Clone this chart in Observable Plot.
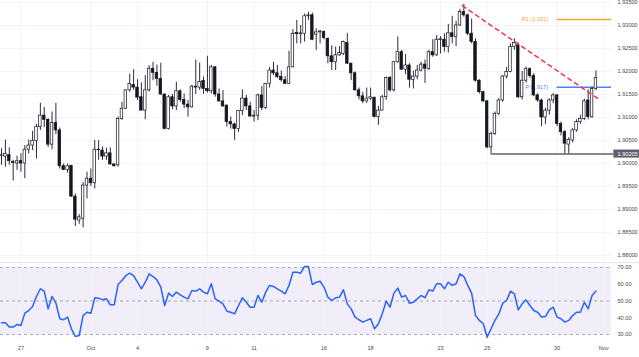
<!DOCTYPE html>
<html><head><meta charset="utf-8">
<script src="https://cdn.jsdelivr.net/npm/d3@7"></script>
<script src="https://cdn.jsdelivr.net/npm/@observablehq/plot@0.6"></script>
<style>
body{margin:0;background:#fff;}
#chart{width:639px;height:357px;overflow:hidden;position:relative;}
#chart svg{display:block;}
#rsiBox{border-top:1px solid #e0e3eb;}
</style></head><body><div id="chart"><div id="mainBox"></div><div id="rsiBox"></div></div>
<script>
// ---- 4-hour candles (first bar: 2023-09-26 04:00) ----
const open = [1.9016,1.9015,1.9018,1.9003,1.9000,1.9005,1.9000,1.9030,1.9039,1.9049,
1.9079,1.9104,1.9095,1.9041,1.9088,1.9072,1.8994,1.8986,1.8995,1.8928,
1.8876,1.8880,1.8952,1.8967,1.8957,1.9030,1.9028,1.9015,1.9022,1.8998,
1.8996,1.9097,1.9119,1.9159,1.9171,1.9165,1.9144,1.9115,1.9159,1.9206,
1.9197,1.9184,1.9150,1.9075,1.9144,1.9124,1.9157,1.9138,1.9128,1.9122,
1.9167,1.9165,1.9179,1.9162,1.9157,1.9209,1.9150,1.9135,1.9126,1.9090,
1.9085,1.9075,1.9114,1.9141,1.9124,1.9102,1.9104,1.9148,1.9121,1.9173,
1.9202,1.9196,1.9188,1.9181,1.9173,1.9209,1.9284,1.9281,1.9282,1.9320,
1.9322,1.9280,1.9285,1.9286,1.9271,1.9233,1.9220,1.9235,1.9238,1.9262,
1.9217,1.9196,1.9159,1.9146,1.9135,1.9141,1.9143,1.9101,1.9115,1.9144,
1.9186,1.9159,1.9220,1.9242,1.9204,1.9213,1.9182,1.9189,1.9202,1.9215,
1.9206,1.9242,1.9235,1.9268,1.9269,1.9253,1.9283,1.9275,1.9300,1.9329,
1.9322,1.9282,1.9264,1.9180,1.9155,1.9135,1.9035,1.9064,1.9108,1.9137,
1.9189,1.9199,1.9253,1.9257,1.9144,1.9180,1.9205,1.9190,1.9148,1.9137,
1.9100,1.9115,1.9137,1.9148,1.9086,1.9068,1.9041,1.9050,1.9072,1.9090,
1.9097,1.9137,1.9101,1.9162];
const high = [1.9032,1.9051,1.9034,1.9007,1.9016,1.9021,1.9039,1.9051,1.9070,1.9085,
1.9131,1.9122,1.9097,1.9112,1.9131,1.9077,1.8999,1.8999,1.8996,1.8934,
1.8889,1.8959,1.8981,1.8988,1.9050,1.9050,1.9036,1.9033,1.9034,1.8999,
1.9101,1.9133,1.9160,1.9194,1.9204,1.9182,1.9175,1.9191,1.9213,1.9220,
1.9214,1.9218,1.9151,1.9148,1.9150,1.9177,1.9160,1.9151,1.9137,1.9170,
1.9225,1.9218,1.9188,1.9233,1.9213,1.9211,1.9162,1.9159,1.9127,1.9101,
1.9088,1.9115,1.9160,1.9148,1.9133,1.9115,1.9151,1.9167,1.9174,1.9209,
1.9220,1.9213,1.9201,1.9189,1.9244,1.9291,1.9311,1.9300,1.9325,1.9329,
1.9327,1.9293,1.9289,1.9288,1.9273,1.9256,1.9253,1.9254,1.9266,1.9283,
1.9218,1.9199,1.9164,1.9155,1.9164,1.9164,1.9144,1.9124,1.9148,1.9188,
1.9189,1.9222,1.9275,1.9246,1.9237,1.9217,1.9201,1.9213,1.9220,1.9225,
1.9246,1.9269,1.9278,1.9276,1.9282,1.9302,1.9320,1.9309,1.9335,1.9346,
1.9325,1.9314,1.9271,1.9182,1.9157,1.9137,1.9068,1.9112,1.9141,1.9191,
1.9209,1.9260,1.9271,1.9262,1.9200,1.9210,1.9208,1.9195,1.9152,1.9140,
1.9120,1.9141,1.9152,1.9150,1.9090,1.9072,1.9056,1.9076,1.9095,1.9105,
1.9140,1.9160,1.9166,1.9201];
const low = [1.8996,1.8992,1.8996,1.8962,1.8985,1.8981,1.8967,1.9021,1.9028,1.9010,
1.9072,1.9078,1.9035,1.9030,1.9063,1.8988,1.8985,1.8979,1.8927,1.8863,
1.8868,1.8860,1.8923,1.8950,1.8945,1.9007,1.9007,1.9007,1.8996,1.8992,
1.8992,1.9094,1.9117,1.9155,1.9159,1.9137,1.9114,1.9095,1.9155,1.9180,
1.9168,1.9148,1.9073,1.9073,1.9117,1.9115,1.9133,1.9119,1.9101,1.9121,
1.9150,1.9159,1.9150,1.9153,1.9151,1.9144,1.9133,1.9122,1.9079,1.9075,
1.9050,1.9068,1.9104,1.9115,1.9101,1.9090,1.9093,1.9115,1.9117,1.9164,
1.9191,1.9184,1.9177,1.9172,1.9172,1.9208,1.9260,1.9260,1.9264,1.9311,
1.9267,1.9246,1.9260,1.9269,1.9217,1.9202,1.9202,1.9233,1.9235,1.9215,
1.9180,1.9157,1.9138,1.9130,1.9131,1.9137,1.9099,1.9083,1.9114,1.9137,
1.9155,1.9155,1.9218,1.9202,1.9193,1.9164,1.9162,1.9182,1.9199,1.9174,
1.9202,1.9231,1.9233,1.9238,1.9242,1.9240,1.9260,1.9254,1.9298,1.9318,
1.9278,1.9260,1.9177,1.9151,1.9133,1.9032,1.9021,1.9061,1.9104,1.9133,
1.9184,1.9197,1.9246,1.9141,1.9138,1.9175,1.9185,1.9145,1.9133,1.9080,
1.9085,1.9105,1.9130,1.9080,1.9060,1.9021,1.9021,1.9045,1.9068,1.9085,
1.9093,1.9095,1.9098,1.9158];
const close = [1.9018,1.9021,1.9005,1.9001,1.9005,1.9000,1.9030,1.9039,1.9049,1.9079,
1.9104,1.9095,1.9041,1.9088,1.9072,1.8994,1.8986,1.8994,1.8928,1.8878,
1.8883,1.8952,1.8967,1.8957,1.9030,1.9029,1.9015,1.9022,1.8998,1.8994,
1.9097,1.9119,1.9159,1.9173,1.9165,1.9143,1.9115,1.9159,1.9206,1.9197,
1.9184,1.9150,1.9075,1.9144,1.9124,1.9157,1.9138,1.9128,1.9122,1.9167,
1.9165,1.9177,1.9162,1.9157,1.9209,1.9150,1.9135,1.9124,1.9090,1.9085,
1.9075,1.9114,1.9141,1.9124,1.9102,1.9104,1.9148,1.9121,1.9173,1.9202,
1.9196,1.9188,1.9181,1.9173,1.9209,1.9282,1.9281,1.9283,1.9320,1.9322,
1.9269,1.9285,1.9287,1.9273,1.9233,1.9220,1.9235,1.9240,1.9264,1.9217,
1.9196,1.9159,1.9146,1.9135,1.9141,1.9144,1.9101,1.9115,1.9144,1.9186,
1.9159,1.9220,1.9242,1.9204,1.9213,1.9182,1.9189,1.9202,1.9215,1.9206,
1.9242,1.9235,1.9269,1.9270,1.9253,1.9283,1.9275,1.9300,1.9329,1.9322,
1.9282,1.9264,1.9180,1.9155,1.9135,1.9035,1.9064,1.9108,1.9137,1.9189,
1.9199,1.9253,1.9262,1.9144,1.9180,1.9205,1.9190,1.9148,1.9137,1.9100,
1.9115,1.9137,1.9148,1.9086,1.9068,1.9043,1.9051,1.9072,1.9090,1.9097,
1.9135,1.9101,1.9162,1.9186];
// ---- RSI(14) per bar ----
const rsi = [37.0,37.0,34.4,34.4,36.0,35.4,42.7,44.3,46.7,52.7,
57.3,55.9,45.3,52.7,48.7,39.4,38.8,40.4,33.4,28.8,
29.4,41.3,43.3,42.7,51.9,51.7,50.7,51.3,47.7,47.7,
59.8,62.2,65.2,66.6,65.2,61.2,57.3,61.2,66.2,64.6,
62.6,58.3,47.3,54.7,52.7,55.3,53.7,52.3,51.3,56.3,
55.9,57.3,55.3,54.3,60.3,51.3,49.9,48.3,43.9,43.3,
42.3,47.3,51.9,49.3,46.3,46.3,53.3,49.3,55.3,59.3,
58.7,57.3,55.9,54.3,59.3,67.2,67.2,66.6,70.6,70.6,
59.8,61.2,61.8,58.3,52.3,50.3,51.9,52.3,56.7,48.3,
45.3,40.4,38.8,37.4,38.4,39.4,33.4,36.4,42.3,49.9,
46.3,54.7,57.7,52.3,53.3,48.7,49.3,51.3,53.3,51.9,
56.7,55.9,60.3,60.3,57.3,61.2,59.3,60.3,66.2,64.6,
59.3,54.7,41.3,38.4,36.4,28.4,33.4,38.4,42.3,48.7,
50.3,55.9,54.3,44.7,48.3,50.7,47.3,44.3,43.3,40.4,
40.7,44.7,46.3,40.4,39.4,37.4,38.4,41.3,43.3,43.3,
49.3,45.3,53.3,55.9];
// ---- axes ----
const tickDates = ["2023-09-27","2023-10-02","2023-10-04","2023-10-09","2023-10-11","2023-10-16","2023-10-18","2023-10-23","2023-10-25","2023-10-30","2023-11-01"];
const tickLabels = ["27","Oct","4","9","11","16","18","23","25","30","Nov"];
const priceTicks = [1.880,1.885,1.890,1.895,1.900,1.905,1.910,1.915,1.920,1.925,1.930,1.935];
const rsiTicks = [30,40,50,60,70];
const rsiDashed = [70,50,30];
const rsiBand = [30,70];
// ---- annotations ----
const supportLevel = 1.90205;
const supportFromBar = 126;
const pivotR1 = 1.9313;
const pivotP = 1.9166;
const pivotWeek = "2023-10-30";
const trendline = [{bar:118.6, price:1.9343},{bar:154.2, price:1.9137}];

// bar index of each day's 00:00 bar (6 bars per weekday, first bar Tue 26 Sep 04:00)
const firstBar = new Date("2023-09-26T04:00:00Z");
const dayIndex = new Map();
{
  let t = new Date(firstBar), k = 0;
  while (k < 200) {
    const w = t.getUTCDay();
    if (w !== 0 && w !== 6) {
      if (t.getUTCHours() === 0) dayIndex.set(t.toISOString().slice(0,10), k);
      k++;
    }
    t = new Date(t.getTime() + 4*3600*1000);
  }
}
const tickIdx = tickDates.map(d => dayIndex.get(d));
const labelOf = new Map(tickIdx.map((v,i) => [v, tickLabels[i]]));
const weekIdx = dayIndex.get(pivotWeek);

const bars = open.map((o,i) => ({i, o, h: high[i], l: low[i], c: close[i]}));
const xDomain = [-0.26, 157];
const font = {fontFamily: "'Liberation Sans', Arial, sans-serif", fontSize: "5.6px", background: "transparent", overflow: "visible"};
const axisColor = "#4a4a4a";
const gridColor = "#f0f3fa";
const ink = "#131722";

const main = Plot.plot({
  width: 639, height: 262, marginLeft: 0, marginRight: 28, marginTop: 0, marginBottom: 0,
  x: {domain: xDomain, axis: null},
  y: {domain: [1.87848, 1.93543], axis: null},
  style: font,
  marks: [
    Plot.gridX(tickIdx, {stroke: gridColor, strokeOpacity: 1}),
    Plot.gridY(priceTicks, {stroke: gridColor, strokeOpacity: 1}),
    Plot.axisY(priceTicks, {anchor: "right", tickSize: 0, tickPadding: 6, tickFormat: d3.format(".5f"), fill: axisColor}),
    Plot.ruleY([pivotR1], {x1: weekIdx, x2: xDomain[1], stroke: "#f7a23a", strokeWidth: 1.5}),
    Plot.ruleY([pivotP], {x1: weekIdx, x2: xDomain[1], stroke: "#4f83f5", strokeWidth: 1.5}),
    Plot.text([pivotR1], {x: weekIdx, y: d => d, text: d => `R1 (${d3.format(".3f")(d)})`, textAnchor: "end", dx: -9, fill: "#f7a23a", fontSize: 5.6}),
    Plot.text([pivotP], {x: weekIdx, y: d => d, text: d => `P (${d3.format(".3f")(d)})`, textAnchor: "end", dx: -9, fill: "#4f83f5", fontSize: 5.6}),
    Plot.ruleX(bars, {x: "i", y1: "l", y2: "h", stroke: ink, strokeWidth: 0.9}),
    Plot.rect(bars, {x1: d => d.i - 0.33, x2: d => d.i + 0.33, y1: "o", y2: "c", fill: d => d.c >= d.o ? "#ffffff" : ink, stroke: ink, strokeWidth: 0.7}),
    Plot.ruleY([supportLevel], {x1: supportFromBar, x2: 157.6, stroke: "#5d606b", strokeWidth: 1.5}),
    Plot.line(trendline, {x: "bar", y: "price", stroke: "#f23645", strokeWidth: 1.5, strokeDasharray: "4,4"}),
    Plot.rect([supportLevel], {x1: 157.6, x2: 165, y1: d => d - 0.00088, y2: d => d + 0.00088, fill: "#5d606b"}),
    Plot.text([supportLevel], {x: xDomain[1], y: d => d, text: d => d3.format(".5f")(d), textAnchor: "start", dx: 6, fill: "#ffffff", fontSize: 5.6})
  ]
});
document.getElementById("mainBox").appendChild(main);

const rsiPlot = Plot.plot({
  width: 639, height: 94, marginLeft: 0, marginRight: 28, marginTop: 0, marginBottom: 18,
  x: {domain: xDomain, axis: null},
  y: {domain: [27.01, 72.39], axis: null},
  style: font,
  marks: [
    Plot.rect([rsiBand], {y1: d => d[0], y2: d => d[1], fill: "#f1eef9"}),
    Plot.gridX(tickIdx, {stroke: gridColor, strokeOpacity: 1}),
    Plot.ruleY(rsiDashed, {stroke: "#9598a1", strokeDasharray: "3,3", strokeWidth: 0.8}),
    Plot.line(rsi, {x: (d,i) => i, y: d => d, stroke: "#2962ff", strokeWidth: 1.5}),
    Plot.axisY(rsiTicks, {anchor: "right", tickSize: 0, tickPadding: 6, tickFormat: d3.format(".2f"), fill: axisColor}),
    Plot.axisX(tickIdx, {anchor: "bottom", tickSize: 0, tickPadding: 7, tickFormat: d => labelOf.get(d), fill: axisColor})
  ]
});
document.getElementById("rsiBox").appendChild(rsiPlot);
</script>
</body></html>
